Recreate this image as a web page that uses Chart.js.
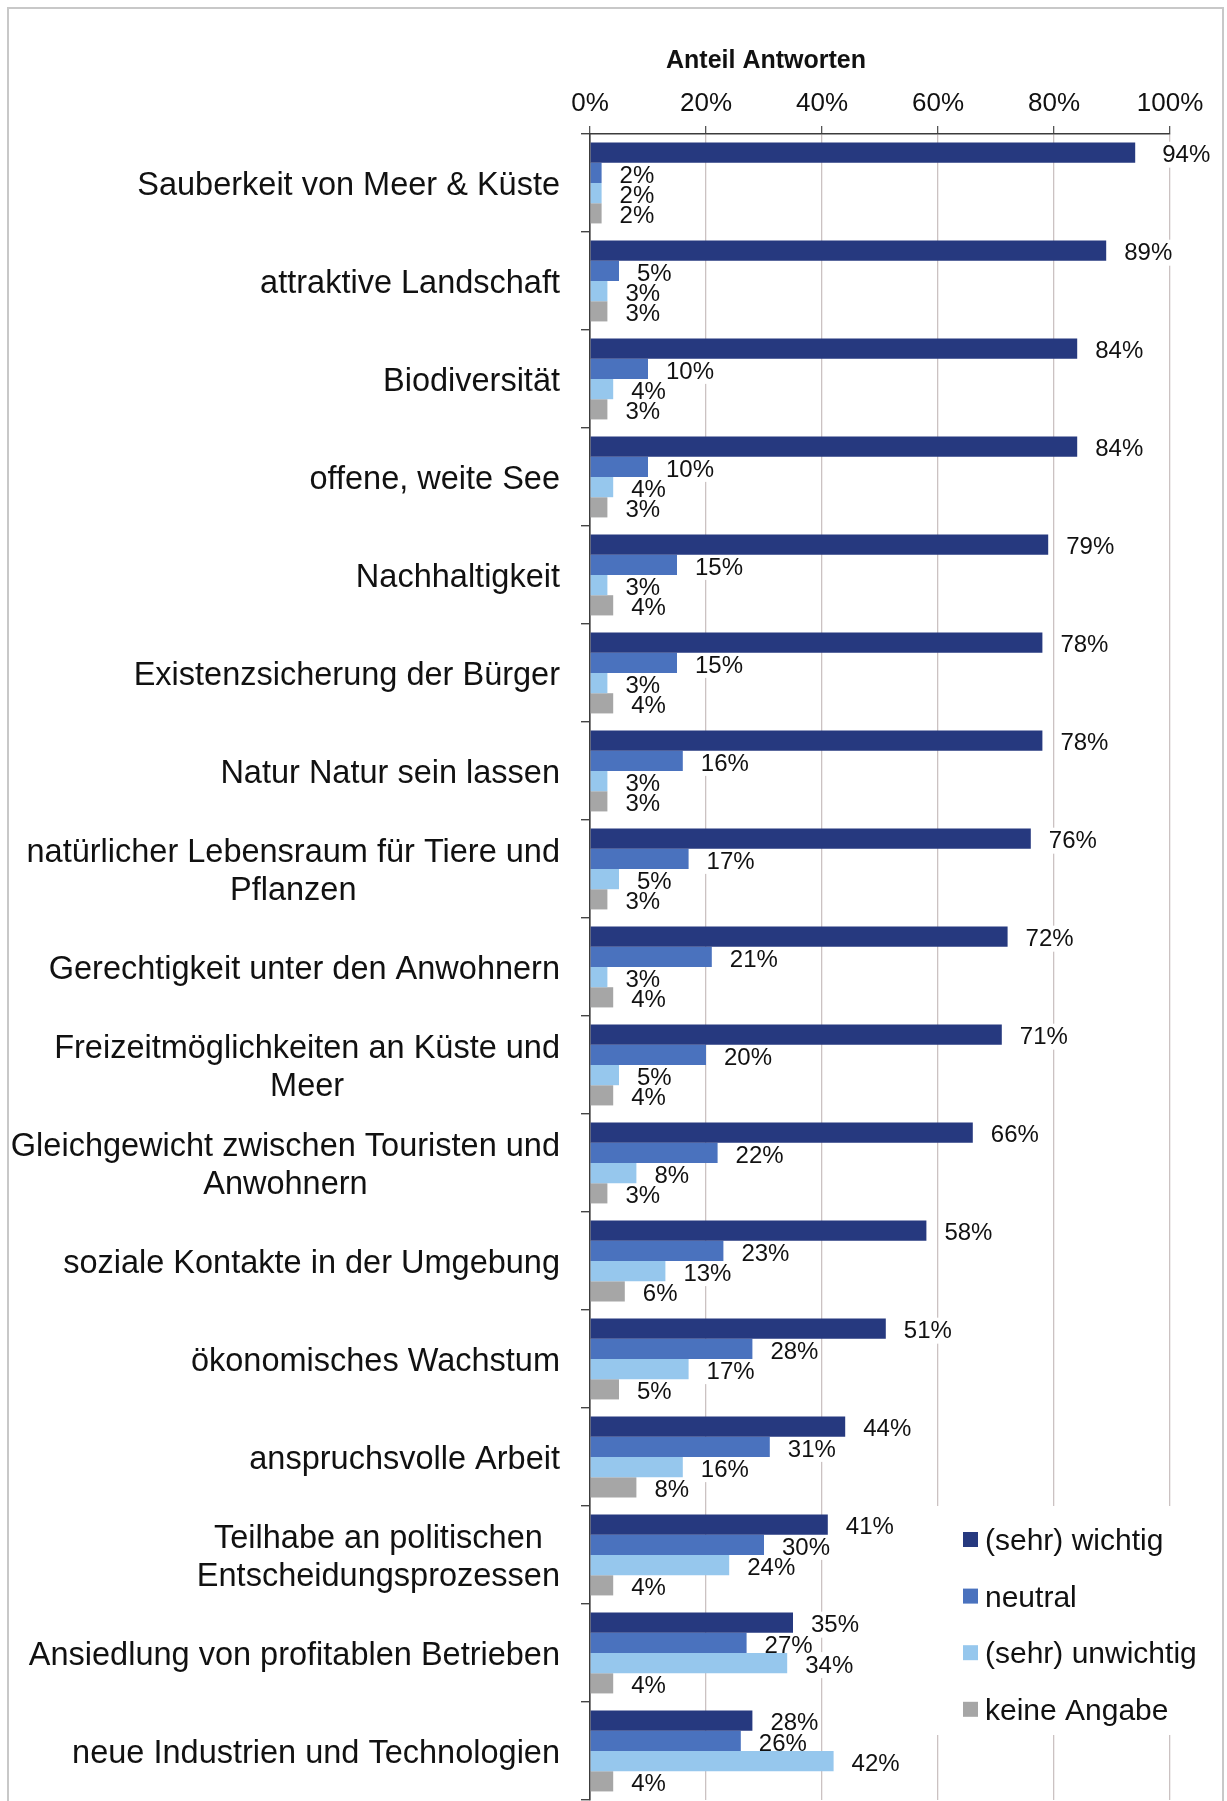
<!DOCTYPE html>
<html>
<head>
<meta charset="utf-8">
<script src="https://cdn.jsdelivr.net/npm/chart.js@4/dist/chart.umd.min.js"></script>
<style>
  html, body { margin: 0; padding: 0; background: #fff; overflow: hidden; }
  #wrap { position: relative; width: 1227px; height: 1801px; }
  #wrap canvas { position: absolute; left: 0; top: 0; }
  #frame { position: absolute; left: 7px; top: 7px; width: 1217px; height: 1800px;
           border: 2px solid #c8c8c8; border-bottom: none; box-sizing: border-box; pointer-events: none; }
</style>
</head>
<body>
<div id="wrap">
  <canvas id="chart" width="1227" height="1801"></canvas>
  <div id="frame"></div>
</div>
<script>
// Survey: how important is each aspect (share of answers, %)
const categories = [
  'Sauberkeit von Meer & Küste',
  'attraktive Landschaft',
  'Biodiversität',
  'offene, weite See',
  'Nachhaltigkeit',
  'Existenzsicherung der Bürger',
  'Natur Natur sein lassen',
  ['natürlicher Lebensraum für Tiere und', 'Pflanzen'],
  'Gerechtigkeit unter den Anwohnern',
  ['Freizeitmöglichkeiten an Küste und', 'Meer'],
  ['Gleichgewicht zwischen Touristen und', 'Anwohnern'],
  'soziale Kontakte in der Umgebung',
  'ökonomisches Wachstum',
  'anspruchsvolle Arbeit',
  ['Teilhabe an politischen', 'Entscheidungsprozessen'],
  'Ansiedlung von profitablen Betrieben',
  'neue Industrien und Technologien'
];

const seriesNames = ['(sehr) wichtig', 'neutral', '(sehr) unwichtig', 'keine Angabe'];

const sehrWichtig   = [94, 89, 84, 84, 79, 78, 78, 76, 72, 71, 66, 58, 51, 44, 41, 35, 28];
const neutral       = [ 2,  5, 10, 10, 15, 15, 16, 17, 21, 20, 22, 23, 28, 31, 30, 27, 26];
const sehrUnwichtig = [ 2,  3,  4,  4,  3,  3,  3,  5,  3,  5,  8, 13, 17, 16, 24, 34, 42];
const keineAngabe   = [ 2,  3,  3,  3,  4,  4,  3,  3,  4,  4,  3,  6,  5,  8,  4,  4,  4];

const axisTicks = [0, 20, 40, 60, 80, 100];
const axisTitle = 'Anteil Antworten';

const seriesColors = ['#26397f', '#4a72be', '#96c7ed', '#a6a6a6'];
const FONT = '"Liberation Sans", Arial, Helvetica, sans-serif';

Chart.defaults.font.family = FONT;
Chart.defaults.color = '#111';

// Category names: right-aligned block, multi-line names centred on each other
const categoryLabelPlugin = {
  id: 'categoryLabels',
  afterDraw(chart) {
    const ctx = chart.ctx;
    const yScale = chart.scales.y;
    const right = chart.chartArea.left - 30;
    const lineHeight = 38;
    ctx.save();
    ctx.font = '32.5px ' + FONT;
    ctx.fillStyle = '#111';
    ctx.textAlign = 'center';
    ctx.textBaseline = 'middle';
    chart.data.labels.forEach((label, i) => {
      const lines = Array.isArray(label) ? label : [label];
      const w = Math.max(...lines.map(l => ctx.measureText(l).width));
      const cx = right - w / 2;
      const cy = yScale.getPixelForValue(i) + 3;
      lines.forEach((l, k) => {
        ctx.fillText(l, cx, cy + (k - (lines.length - 1) / 2) * lineHeight);
      });
    });
    ctx.restore();
  }
};

// Percent labels at the end of each bar, on a white box that hides the grid
const valueLabelPlugin = {
  id: 'valueLabels',
  boxes(chart, cb) {
    const ctx = chart.ctx;
    ctx.font = '24px ' + FONT;
    chart.data.datasets.forEach((ds, di) => {
      const meta = chart.getDatasetMeta(di);
      meta.data.forEach((bar, i) => {
        const text = ds.data[i] + '%';
        // labels that would touch the 100 % line sit a little further out
        const gap = ds.data[i] > 90 ? 27 : 18;
        cb(text, bar.x + gap, bar.y + 2, ctx.measureText(text).width);
      });
    });
  },
  beforeDatasetsDraw(chart) {
    const ctx = chart.ctx;
    ctx.save();
    ctx.fillStyle = '#ffffff';
    this.boxes(chart, (t, x, y, w) => ctx.fillRect(x - 2, y - 13, w + 4, 26));
    ctx.restore();
  },
  afterDatasetsDraw(chart) {
    const ctx = chart.ctx;
    ctx.save();
    ctx.fillStyle = '#111';
    ctx.textAlign = 'left';
    ctx.textBaseline = 'middle';
    this.boxes(chart, (t, x, y) => ctx.fillText(t, x, y + 1));
    ctx.restore();
  }
};

// Axis title above the percent scale
const axisTitlePlugin = {
  id: 'axisTitle',
  afterDraw(chart) {
    const ctx = chart.ctx;
    ctx.save();
    ctx.font = 'bold 25px ' + FONT;
    ctx.fillStyle = '#111';
    ctx.textAlign = 'center';
    ctx.textBaseline = 'middle';
    ctx.fillText(axisTitle, 766, 61);
    ctx.restore();
  }
};

// Legend inside the lower right of the plot, on a white panel
const legendPanelPlugin = {
  id: 'legendPanel',
  afterDatasetsDraw(chart) {
    const ctx = chart.ctx;
    ctx.save();
    ctx.fillStyle = '#ffffff';
    ctx.fillRect(926, 1506, 262, 229);
    ctx.font = '30px ' + FONT;
    ctx.textAlign = 'left';
    ctx.textBaseline = 'middle';
    chart.data.datasets.forEach((ds, i) => {
      const cy = 1542 + i * 56.6;
      ctx.fillStyle = ds.backgroundColor;
      ctx.fillRect(963, cy - 10, 15, 15);
      ctx.fillStyle = '#111';
      ctx.fillText(ds.label, 985, cy);
    });
    ctx.restore();
  }
};

const seriesValues = [sehrWichtig, neutral, sehrUnwichtig, keineAngabe];

new Chart(document.getElementById('chart'), {
  type: 'bar',
  data: {
    labels: categories,
    datasets: seriesNames.map((name, i) => ({
      label: name,
      data: seriesValues[i],
      backgroundColor: seriesColors[i],
      borderWidth: 0,
      categoryPercentage: 0.825,
      barPercentage: 1.0
    }))
  },
  options: {
    indexAxis: 'y',
    responsive: false,
    animation: false,
    layout: { padding: { left: 0, right: 57, top: 0, bottom: 1 } },
    plugins: {
      legend: { display: false },
      tooltip: { enabled: false }
    },
    scales: {
      x: {
        position: 'top',
        min: 0,
        max: 100,
        afterBuildTicks: s => { s.ticks = axisTicks.map(v => ({ value: v })); },
        afterFit: s => { s.height = 134; },
        ticks: {
          font: { size: 26 },
          color: '#111',
          padding: 7,
          callback: v => v + '%'
        },
        grid: {
          color: '#cbc2c2',
          lineWidth: 1.3,
          drawTicks: true,
          tickLength: 8,
          tickColor: '#555555',
          tickWidth: 1.3
        },
        border: { display: true, color: '#3c3c3c', width: 1.6 }
      },
      y: {
        position: 'left',
        afterFit: s => { s.width = 590; },
        ticks: { display: false },
        grid: {
          drawOnChartArea: false,
          drawTicks: true,
          tickLength: 9,
          color: '#444444',
          lineWidth: 1.4
        },
        border: { display: true, color: '#3c3c3c', width: 1.6 }
      }
    }
  },
  plugins: [categoryLabelPlugin, valueLabelPlugin, axisTitlePlugin, legendPanelPlugin]
});
</script>
</body>
</html>
